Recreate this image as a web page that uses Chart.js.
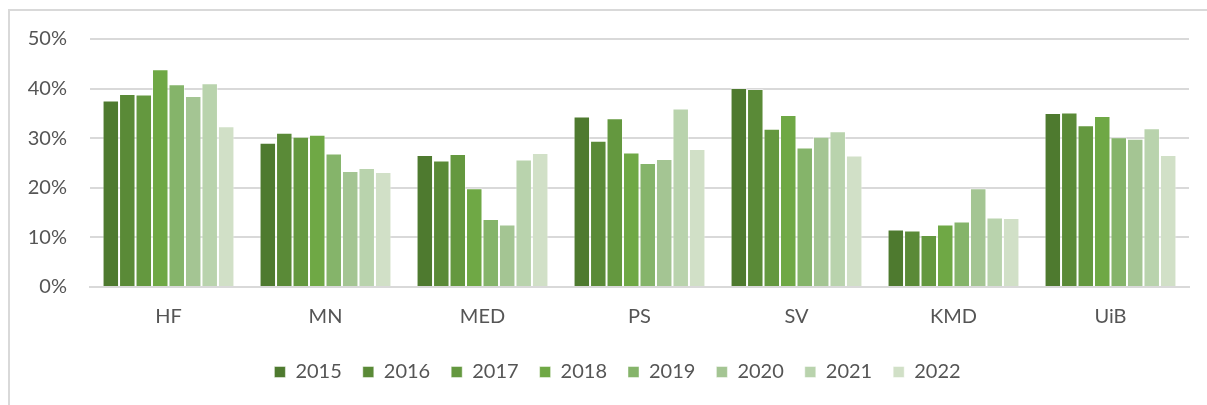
<!DOCTYPE html>
<html lang="no">
<head>
  <meta charset="UTF-8" />
  <title>Andel per fakultet 2015-2022</title>
  <script src="https://cdn.jsdelivr.net/npm/chart.js"></script>
  <style>
    body {
      margin: 0;
      padding: 0;
      background: #fff;
      overflow: hidden;
      width: 1207px;
      height: 405px;
      position: relative;
    }
    .frame {
      position: absolute;
      left: 8px;
      top: 9px;
      width: 1220px;
      height: 420px;
      border-top: 2px solid #d9d9d9;
      border-left: 2px solid #d9d9d9;
    }
    .wrap {
      position: absolute;
      left: 0;
      top: 0;
      width: 1207px;
      height: 405px;
    }
  </style>
</head>
<body>
  <div class="frame"></div>
  <div class="wrap">
    <canvas id="chart" width="1207" height="405"></canvas>
  </div>

  <script>
    const categories = ['HF', 'MN', 'MED', 'PS', 'SV', 'KMD', 'UiB'];
    const years = ['2015', '2016', '2017', '2018', '2019', '2020', '2021', '2022'];
    const yTicks = [0, 10, 20, 30, 40, 50];

    // values in percent, one array per year (HF, MN, MED, PS, SV, KMD, UiB)
    const v2015 = [37.6, 29.1, 26.6, 34.4, 40.1, 11.6, 35.1];
    const v2016 = [38.9, 31.1, 25.5, 29.5, 39.9, 11.4, 35.2];
    const v2017 = [38.8, 30.3, 26.8, 34.0, 31.9, 10.5, 32.6];
    const v2018 = [43.9, 30.7, 19.9, 27.1, 34.7, 12.6, 34.5];
    const v2019 = [40.9, 26.9, 13.7, 25.0, 28.1, 13.2, 30.2];
    const v2020 = [38.5, 23.4, 12.6, 25.8, 30.3, 19.9, 29.9];
    const v2021 = [41.1, 24.0, 25.7, 36.0, 31.4, 14.0, 32.0];
    const v2022 = [32.4, 23.2, 27.0, 27.8, 26.5, 13.9, 26.6];

    const series = [v2015, v2016, v2017, v2018, v2019, v2020, v2021, v2022];
    const colors = ['#4e7a2f', '#5a8a37', '#64983f', '#6fa845', '#85b46a', '#a4c593', '#b9d3ad', '#d1e0c7'];

    const textColor = '#555555';
    const gridColor = '#d9d9d9';
    const fontFamily = 'Lato, "Open Sans", sans-serif';

    // the legend in the original sits a bit right of the centre
    const shiftLegend = {
      id: 'shiftLegend',
      afterLayout(chart) {
        chart.legend.left += 23;
        chart.legend.right += 23;
      }
    };

    const ctx = document.getElementById('chart').getContext('2d');
    new Chart(ctx, {
      type: 'bar',
      data: {
        labels: categories,
        datasets: years.map((y, i) => ({
          label: y,
          data: series[i],
          backgroundColor: colors[i],
          borderColor: 'rgba(255,255,255,0.45)',
          borderWidth: 1,
          categoryPercentage: 0.84,
          barPercentage: 1.0
        }))
      },
      plugins: [shiftLegend],
      options: {
        responsive: false,
        animation: false,
        layout: {
          padding: { top: 39, right: 18, left: 0, bottom: 13 }
        },
        plugins: {
          tooltip: { enabled: false },
          legend: {
            position: 'bottom',
            labels: {
              color: textColor,
              font: { family: fontFamily, size: 20 },
              boxWidth: 11,
              boxHeight: 11,
              padding: 21
            }
          }
        },
        scales: {
          x: {
            grid: { display: false },
            border: { display: true, color: gridColor, width: 2 },
            ticks: {
              color: textColor,
              font: { family: fontFamily, size: 20 },
              padding: 10
            },
            afterFit: (s) => { s.height = 54; }
          },
          y: {
            min: yTicks[0],
            max: yTicks[yTicks.length - 1],
            afterBuildTicks: (s) => { s.ticks = yTicks.map(v => ({ value: v })); },
            grid: { color: gridColor, lineWidth: 2, drawTicks: false },
            border: { display: false },
            ticks: {
              color: textColor,
              font: { family: fontFamily, size: 20 },
              padding: 23,
              callback: (v) => v + '%'
            },
            afterFit: (s) => { s.width = 90; }
          }
        }
      }
    });
  </script>
</body>
</html>
